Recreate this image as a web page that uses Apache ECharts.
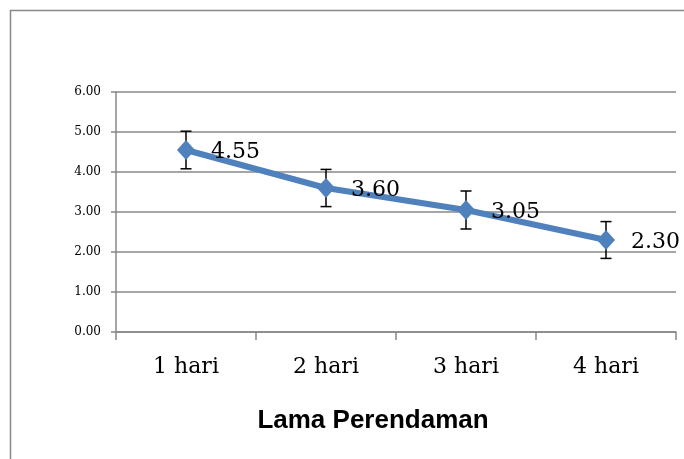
<!DOCTYPE html>
<html>
<head>
<meta charset="utf-8">
<script src="https://cdn.jsdelivr.net/npm/echarts@6/dist/echarts.min.js"></script>
<style>
html,body{margin:0;padding:0;background:#fff;}
#chart{width:684px;height:459px;}
</style>
</head>
<body>
<div id="chart"></div>
<script>
const categories = ['1 hari', '2 hari', '3 hari', '4 hari'];
const values = [4.55, 3.60, 3.05, 2.30];
const errors = [0.47, 0.465, 0.475, 0.46];
const yTicks = [0, 1, 2, 3, 4, 5, 6];
const axisTitle = 'Lama Perendaman';

const errorData = values.map((v, i) => [i, v + errors[i], v - errors[i]]);

const chart = echarts.init(document.getElementById('chart'), null, {renderer: 'canvas'});
const gray = '#888888';
const serif = 'DejaVu Serif';

chart.setOption({
  animation: false,
  backgroundColor: '#fff',
  graphic: [{
    type: 'rect',
    silent: true,
    z: -1,
    shape: {x: 10.5, y: 10.5, width: 720, height: 480},
    style: {fill: 'none', stroke: gray, lineWidth: 1.5}
  }],
  title: {
    text: axisTitle,
    left: 368,
    top: 403,
    textAlign: 'center',
    textStyle: {fontFamily: 'Liberation Sans', fontWeight: 'bold', fontSize: 26, color: '#000'}
  },
  grid: {left: 116, right: 8, top: 92, bottom: 127, containLabel: false},
  xAxis: {
    type: 'category',
    data: categories,
    boundaryGap: true,
    axisLine: {lineStyle: {color: gray, width: 1.5}},
    axisTick: {show: true, length: 8, lineStyle: {color: gray, width: 1.5}},
    axisLabel: {fontFamily: serif, fontSize: 22, color: '#000', margin: 24},
    splitLine: {show: false}
  },
  yAxis: {
    type: 'value',
    min: yTicks[0],
    max: yTicks[yTicks.length - 1],
    interval: 1,
    axisLine: {show: true, lineStyle: {color: gray, width: 1.5}},
    axisTick: {show: true, length: 5, lineStyle: {color: gray, width: 1.5}},
    axisLabel: {fontFamily: serif, fontSize: 12, color: '#000', margin: 15,
      formatter: v => v.toFixed(2)},
    splitLine: {show: true, lineStyle: {color: gray, width: 1.5}}
  },
  series: [
    {
      type: 'custom',
      z: 1,
      data: errorData,
      renderItem: function (params, api) {
        const idx = api.value(0);
        const top = api.coord([idx, api.value(1)]);
        const bot = api.coord([idx, api.value(2)]);
        const hw = 5.5;
        const style = {stroke: '#000', lineWidth: 1.5};
        return {
          type: 'group',
          children: [
            {type: 'line', shape: {x1: top[0], y1: top[1], x2: bot[0], y2: bot[1]}, style: style},
            {type: 'line', shape: {x1: top[0] - hw, y1: top[1], x2: top[0] + hw, y2: top[1]}, style: style},
            {type: 'line', shape: {x1: bot[0] - hw, y1: bot[1], x2: bot[0] + hw, y2: bot[1]}, style: style}
          ]
        };
      }
    },
    {
      type: 'line',
      z: 3,
      data: values,
      symbol: 'diamond',
      symbolSize: [18, 20],
      lineStyle: {color: '#4F81BD', width: 6},
      itemStyle: {color: '#4F81BD'},
      label: {
        show: true,
        position: 'right',
        distance: 16,
        offset: [0, 2],
        fontFamily: serif,
        fontSize: 22,
        color: '#000',
        formatter: p => p.value.toFixed(2)
      }
    }
  ]
});
</script>
</body>
</html>
